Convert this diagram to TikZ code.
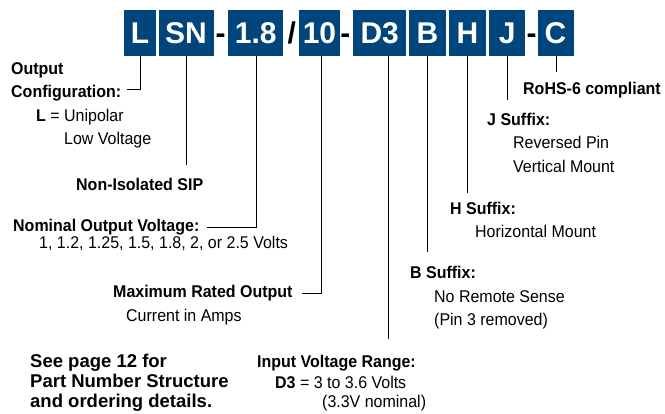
\documentclass[tikz,border=0pt]{standalone}
\usepackage{fontspec}
\setmainfont{Liberation Sans}
\newfontfamily\condsf{Liberation Sans}[FakeStretch=0.94]
\usepackage{tikz}
\definecolor{pnblue}{RGB}{0,69,124}

\begin{document}
\begin{tikzpicture}[
  x=1pt, y=-1pt,
  code/.style={fill=pnblue, text=white, font=\fontsize{30}{30}\selectfont\bfseries, minimum height=45.5pt, inner sep=0pt, text height=21.5pt, text depth=0pt},
  sep/.style={font=\fontsize{30}{30}\selectfont\bfseries, inner sep=0pt, anchor=base},
  hd/.style={font=\condsf\fontsize{17}{23}\selectfont\bfseries, align=left, anchor=base west, inner sep=0pt},
  txt/.style={font=\condsf\fontsize{17}{23}\selectfont, align=left, anchor=base west, inner sep=0pt},
  ln/.style={line width=0.9pt}
]
\useasboundingbox (0,0) rectangle (665,413);

% part number boxes
\node[code, minimum width=32pt] (cL) at (140,32.75) {L};
\node[code, minimum width=55pt] (cSN) at (186,32.75) {SN};
\node[sep] (d1) at (220.5,43.5) {-};
\node[code, minimum width=55pt] (c18) at (255.8,32.75) {1.8};
\node[sep] (sl) at (291.7,43.5) {/};
\node[code, minimum width=41pt] (c10) at (319.5,32.75) {10};
\node[sep] (d2) at (345.3,43.5) {-};
\node[code, minimum width=53pt] (cD3) at (379.7,32.75) {D3};
\node[code, minimum width=37pt] (cB) at (427.5,32.75) {B};
\node[code, minimum width=37pt] (cH) at (467.5,32.75) {H};
\node[code, minimum width=36pt] (cJ) at (507.2,32.75) {J};
\node[sep] (d3) at (531.5,43.5) {-};
\node[code, minimum width=36pt] (cC) at (555.5,32.75) {C};

% descriptions (multi-line nodes sit on their last line)
\node[hd] (oc) at (11,97.3) {Output\\Configuration:};
\node[txt] (ocL) at (36,121) {\textbf{L} = Unipolar};
\node[txt] (ocL2) at (64,144) {Low Voltage};
\node[hd] (nis) at (76,190.7) {Non-Isolated SIP};
\node[hd] (nov) at (13,231.5) {Nominal Output Voltage:};
\node[txt] (novv) at (39,248.7) {1, 1.2, 1.25, 1.5, 1.8, 2, or 2.5 Volts};
\node[hd] (mro) at (113,297.3) {Maximum Rated Output};
\node[txt] (mroc) at (126,321.5) {Current in Amps};
\node[hd] (ivr) at (257,367) {Input Voltage Range:};
\node[txt] (ivrd) at (275,388) {\textbf{D3} = 3 to 3.6 Volts};
\node[txt] (ivrn) at (322,407.5) {(3.3V nominal)};
\node[hd, font=\fontsize{18.5}{20}\selectfont\bfseries] (see) at (30,407) {See page 12 for\\Part Number Structure\\and ordering details.};
\node[hd] (bs) at (410,278.5) {B Suffix:};
\node[txt, font=\condsf\fontsize{17}{22.5}\selectfont] (bsn) at (434,325.2) {No Remote Sense\\(Pin 3 removed)};
\node[hd] (hs) at (450,214.3) {H Suffix:};
\node[txt] (hsn) at (475,237.3) {Horizontal Mount};
\node[hd] (js) at (487,125) {J Suffix:};
\node[txt, font=\condsf\fontsize{17}{24}\selectfont] (jsn) at (513,172.3) {Reversed Pin\\Vertical Mount};
\node[hd] (rohs) at (523,94) {RoHS-6 compliant};

% leader ends
\coordinate (pL) at (127,89);
\coordinate (pSN) at (186,165);
\coordinate (p18) at (207,227.3);
\coordinate (p10) at (302,293.3);
\coordinate (pD3) at (388.5,339);
\coordinate (pB) at (427.3,252);
\coordinate (pH) at (467,193);
\coordinate (pJ) at (507,100);
\coordinate (pC) at (556.5,72);

\draw[ln] (cL.south) |- (pL);
\draw[ln] (cSN.south -| pSN) -- (pSN);
\draw[ln] (c18.south -| 256.7,0) |- (p18);
\draw[ln] (c10.south -| 321.5,0) |- (p10);
\draw[ln] (cD3.south -| pD3) -- (pD3);
\draw[ln] (cB.south -| pB) -- (pB);
\draw[ln] (cH.south -| pH) -- (pH);
\draw[ln] (cJ.south -| pJ) -- (pJ);
\draw[ln] (cC.south -| pC) -- (pC);
\end{tikzpicture}
\end{document}
